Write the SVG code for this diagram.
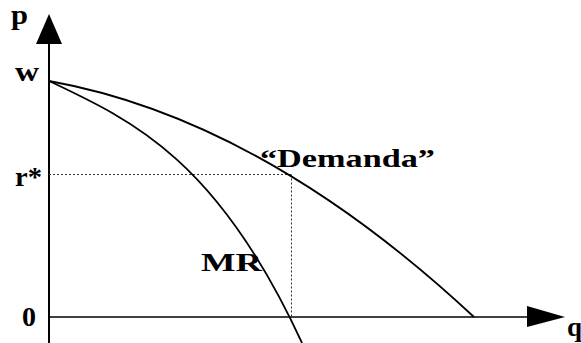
<svg xmlns="http://www.w3.org/2000/svg" width="581" height="343" viewBox="0 0 581 343">
<style>
.lbl{font-family:"Liberation Serif","Times New Roman",serif;font-weight:bold;fill:#000}
.ax{stroke:#000;fill:none}
.cv{stroke:#000;stroke-width:1.8;fill:none}
.dot{stroke:#333;stroke-width:1;stroke-dasharray:2 2;fill:none}
.head{fill:#000}
</style>
<rect width="581" height="343" fill="#fff"/>
<g id="axes">
<line class="ax" x1="49" y1="40" x2="49" y2="343" stroke-width="2"/>
<polygon class="head" points="49,14 62,44 36,44"/>
<line class="ax" x1="49" y1="317" x2="530" y2="317" stroke-width="1.6"/>
<polygon class="head" points="565,317 527,306 527,327"/>
</g>
<g id="guides">
<line class="dot" x1="49" y1="174.5" x2="291.5" y2="174.5"/>
<line class="dot" x1="291.5" y1="174.5" x2="291.5" y2="317"/>
</g>
<g id="demand">
<path class="cv" d="M49,81 Q261.5,119 474,317"/>
</g>
<g id="mr">
<path class="cv" d="M49,81 C133.3,120.8 217.7,160 302,343"/>
</g>
<g id="labels">
<text class="lbl" x="11" y="24" font-size="27" textLength="17" lengthAdjust="spacingAndGlyphs">p</text>
<text class="lbl" x="15" y="81" font-size="28" textLength="24" lengthAdjust="spacingAndGlyphs">w</text>
<text class="lbl" x="15" y="186" font-size="28" textLength="27" lengthAdjust="spacingAndGlyphs">r*</text>
<text class="lbl" x="22" y="326" font-size="28">0</text>
<text class="lbl" x="567" y="336" font-size="27">q</text>
<text class="lbl" x="201" y="271" font-size="26" textLength="61" lengthAdjust="spacingAndGlyphs">MR</text>
<text class="lbl" x="260" y="167" font-size="26" textLength="175" lengthAdjust="spacingAndGlyphs">“Demanda”</text>
</g>
</svg>
